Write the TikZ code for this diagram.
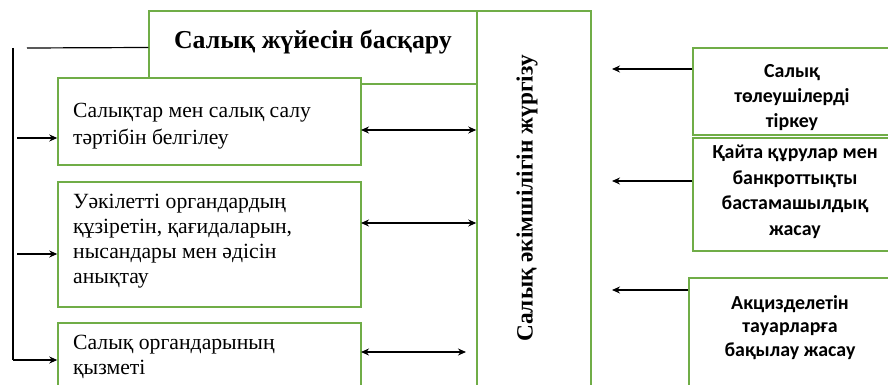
\documentclass[tikz,border=0pt]{standalone}
\usepackage{fontspec}
\setmainfont{Liberation Serif}
\newfontfamily\calib{Carlito}
\usetikzlibrary{arrows.meta}
\definecolor{gr}{HTML}{70AD47}
\begin{document}
\begin{tikzpicture}[x=1pt,y=-1pt,
  gbox/.style={draw=gr, line width=1.5pt, fill=white, inner sep=0pt, rectangle},
  ltext/.style={anchor=north west, align=left, inner sep=0pt},
  rtext/.style={anchor=north, align=center, inner sep=0pt, font=\calib\bfseries\fontsize{19.9}{25}\selectfont},
  btext/.style={inner sep=0pt},
  ln/.style={line width=1.2pt},
  arr/.style={ln, -{Stealth[length=8pt,width=7pt]}},
  darr/.style={ln, {Stealth[length=8pt,width=7pt]}-{Stealth[length=8pt,width=7pt]}}]
\useasboundingbox (0,0) rectangle (888,385);
\clip (0,0) rectangle (888,385);
% boxes
\node[gbox, minimum width=328, minimum height=73] (title) at (313,47.5) {};
\node[gbox, minimum width=114, minimum height=390] (vbox) at (534,206) {};
\node[gbox, minimum width=303, minimum height=87] (b1) at (209.5,121.5) {};
\node[gbox, minimum width=303, minimum height=125] (b2) at (209.5,244.5) {};
\node[gbox, minimum width=303, minimum height=74] (b3) at (209.5,360) {};
\node[gbox, minimum width=260, minimum height=87] (ra) at (823,91.5) {};
\node[gbox, minimum width=260, minimum height=113] (rb) at (823,194.5) {};
\node[gbox, minimum width=264, minimum height=119] (rc) at (821,337.5) {};
% texts
\node[btext, font=\bfseries\fontsize{25.8}{30}\selectfont] (titlet) at (313,42) {Салық жүйесін басқару};
\node[btext, rotate=90, font=\bfseries\fontsize{23.3}{28}\selectfont] (vt) at (527,198.5) {Салық әкімшілігін жүргізу};
\node[ltext, font=\fontsize{21.6}{27}\selectfont] (t1) at (73,103) {Салықтар мен салық салу\\тәртібін белгілеу};
\node[ltext, font=\fontsize{21.7}{25}\selectfont] (t2) at (73,193.5) {Уәкілетті органдардың\\құзіретін, қағидаларын,\\нысандары мен әдісін\\анықтау};
\node[ltext, font=\fontsize{21.7}{25}\selectfont] (t3) at (73,335) {Салық органдарының\\қызметі};
\node[rtext] (ta) at (792,64) {Салық\\төлеушілерді\\тіркеу};
\node[rtext, font=\calib\bfseries\fontsize{19.9}{25.6}\selectfont] (tb) at (795,145) {Қайта құрулар мен\\банкроттықты\\бастамашылдық\\жасау};
\node[rtext, font=\calib\bfseries\fontsize{19.9}{23.5}\selectfont] (tc) at (790,295) {Акцизделетін\\тауарларға\\бақылау жасау};
% left bracket
\coordinate (tl) at (27,48);
\coordinate (vtop) at (13,48);
\coordinate (vbot) at (13,360);
\coordinate (a1) at (17,138);
\coordinate (a2) at (17,254);
\draw[ln] (title.west) -- (tl);
\draw[ln] (vtop) -- (vbot);
\draw[arr] (vbot) -- (vbot -| b3.west);
\draw[arr] (a1) -- (a1 -| b1.west);
\draw[arr] (a2) -- (a2 -| b2.west);
% double arrows
\coordinate (d1) at (361,130);
\coordinate (d2) at (361,223);
\coordinate (d3) at (361,352);
\coordinate (d3e) at (466,352);
\draw[darr] (d1) -- (d1 -| vbox.west);
\draw[darr] (d2) -- (d2 -| vbox.west);
\draw[darr] (d3) -- (d3e);
% right arrows
\coordinate (e1) at (612,69);
\coordinate (e2) at (612,181);
\coordinate (e3) at (612,290);
\draw[arr] (e1 -| ra.west) -- (e1);
\draw[arr] (e2 -| rb.west) -- (e2);
\draw[arr] (e3 -| rc.west) -- (e3);
\end{tikzpicture}
\end{document}
